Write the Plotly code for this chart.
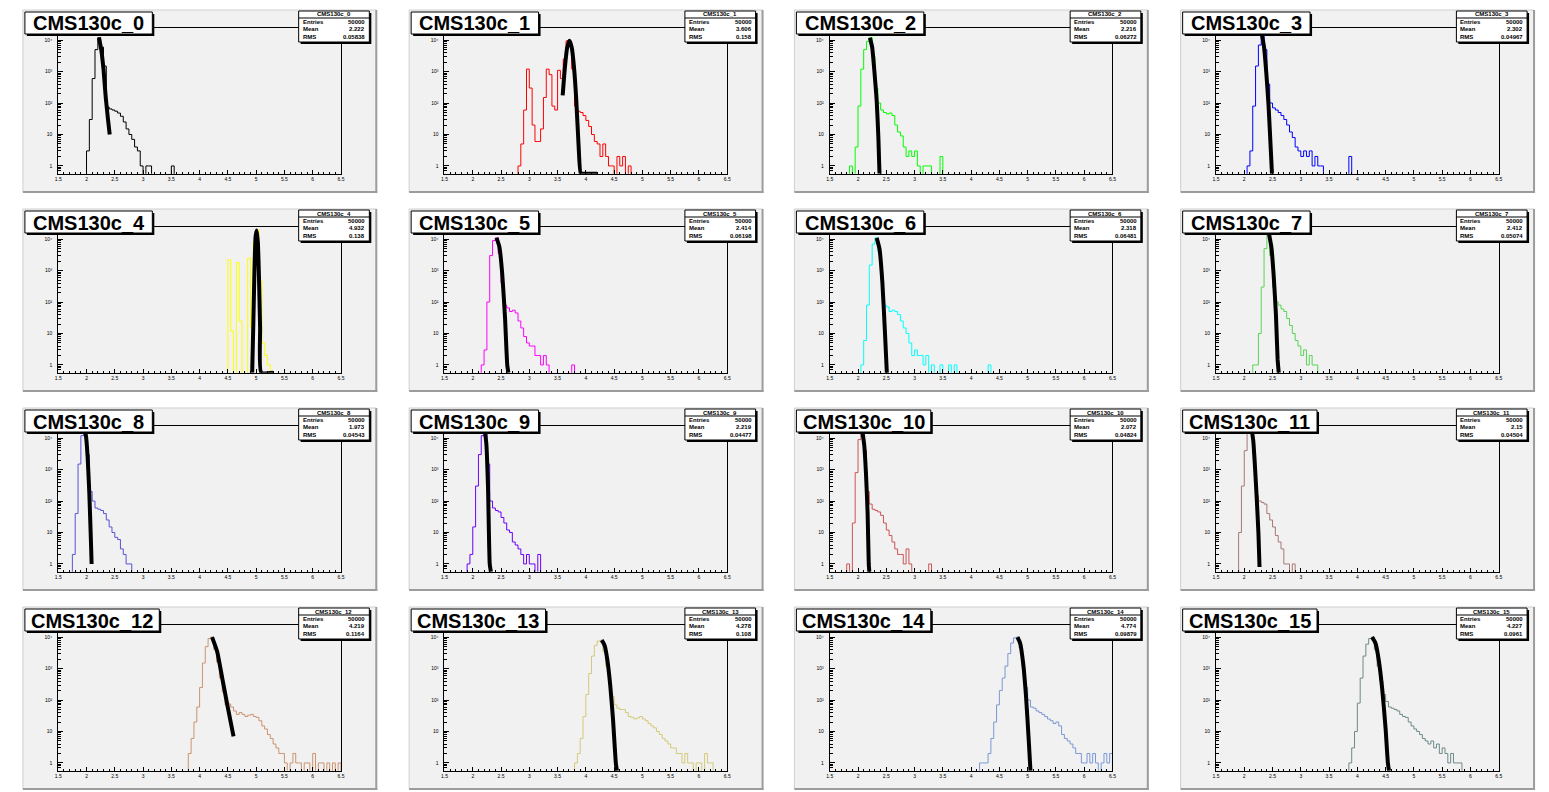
import numpy as np
import plotly.graph_objects as go

# ---------------------------------------------------------------------------
# Histogram contents: bin width 0.05, each list starts at the given low edge
# ---------------------------------------------------------------------------
BIN_WIDTH = 0.05

h0_lo = 2.00
h0 = [3, 30, 600, 5000, 12000, 6000, 1500, 75, 65, 60, 55, 48, 38, 25, 15, 10, 7, 4, 3, 1,
      0, 1, 1, 0, 0, 0, 0, 0, 0, 0, 1]
h1_lo = 2.80
h1 = [1, 5, 60, 1200, 300, 20, 6, 6, 15, 150, 1200, 800, 80, 60, 1100, 600, 2500, 9500, 7000, 1200,
      80, 55, 50, 40, 28, 18, 10, 6, 5, 2, 5, 2, 1, 1, 0, 2, 1, 2, 0, 1]
h2_lo = 1.85
h2 = [1, 0, 4, 80, 1200, 5000, 9000, 12000, 3000, 300, 100, 60, 50, 45, 48, 40, 20, 12, 9, 4,
      2, 3, 2, 3, 1, 0, 1, 1, 1, 0, 0, 0, 2]
h3_lo = 2.05
h3 = [1, 3, 80, 1500, 7000, 16000, 5000, 400, 100, 70, 60, 50, 40, 30, 20, 12, 8, 4, 3, 2,
      3, 2, 3, 1, 2, 1, 1, 0, 0, 0, 0, 0, 0, 0, 0, 0, 2]
h4_lo = 4.50
h4 = [2200, 12, 0, 1800, 25, 0, 0, 2500, 15, 8000, 20000, 500, 5, 2, 1]
h5_lo = 2.15
h5 = [1, 3, 100, 3000, 9000, 11000, 3500, 400, 80, 65, 50, 55, 45, 25, 15, 8, 5, 4, 4, 2,
      2, 1, 2, 1, 0, 0, 0, 0, 0, 0, 0, 0, 1]
h6_lo = 2.05
h6 = [1, 6, 80, 1500, 7000, 11000, 4000, 500, 80, 70, 50, 55, 50, 40, 25, 15, 10, 5, 2, 3,
      2, 2, 1, 2, 0, 1, 0, 0, 1, 0, 0, 1, 0, 1, 0, 0, 0, 0, 0, 0, 0, 0, 0, 0, 0, 1]
h7_lo = 2.15
h7 = [1, 1, 10, 300, 5000, 14000, 3000, 300, 100, 80, 60, 50, 30, 18, 10, 6, 4, 2, 3, 1,
      2, 1, 1]
h8_lo = 1.75
h8 = [2, 40, 1500, 12000, 20000, 3000, 200, 100, 60, 55, 50, 40, 25, 15, 10, 7, 6, 3, 2, 1, 1]
h9_lo = 1.90
h9 = [1, 2, 15, 300, 3000, 12000, 20000, 1500, 100, 60, 50, 45, 30, 20, 12, 10, 5, 4, 3, 2,
      1, 2, 1, 1, 0, 2]
h10_lo = 1.80
h10 = [1, 0, 20, 800, 9000, 15000, 4000, 200, 80, 55, 50, 45, 35, 20, 12, 8, 5, 3, 2, 2,
       1, 3, 1, 0, 0, 0, 0, 0, 0, 1]
h11_lo = 1.90
h11 = [10, 300, 4000, 15000, 20000, 3000, 150, 100, 90, 80, 40, 25, 15, 8, 5, 3, 1, 1, 0, 1]
h12_lo = 3.80
h12 = [2, 6, 20, 60, 250, 1500, 5000, 9000, 10000, 4000, 1600, 500, 180, 70, 75, 60, 45, 35, 40, 35,
       30, 33, 35, 30, 28, 22, 15, 12, 8, 6, 4, 3, 2, 2, 1, 0, 1, 2, 1, 1,
       0, 1, 1, 0, 2, 0, 1, 1, 0, 1, 0, 1, 0, 1]
h13_lo = 3.80
h13 = [1, 2, 6, 30, 150, 700, 2500, 5500, 7500, 8000, 3500, 1200, 400, 130, 70, 55, 50, 50, 40, 30,
       28, 25, 27, 30, 25, 22, 18, 15, 13, 10, 8, 6, 5, 4, 3, 3, 2, 2, 1, 2,
       1, 1, 0, 1, 1, 0, 2, 1, 1]
h14_lo = 4.15
h14 = [1, 1, 1, 2, 6, 20, 70, 200, 500, 1200, 3000, 6500, 9500, 10000, 4500, 1200, 250, 100, 60, 55,
       45, 40, 35, 30, 25, 22, 18, 20, 15, 8, 6, 5, 4, 3, 2, 2, 1, 1, 2, 1,
       2, 1, 0, 1, 2, 1, 2]
h15_lo = 3.85
h15 = [1, 3, 10, 80, 500, 2500, 6000, 9000, 10000, 4000, 1200, 400, 150, 90, 60, 55, 50, 45, 35, 30,
       28, 20, 15, 12, 10, 8, 6, 5, 4, 5, 3, 4, 2, 3, 2, 1, 2, 1, 1, 1]

# ---------------------------------------------------------------------------
# Fitted peak curves (sampled points); values under the frame sit on the floor
# ---------------------------------------------------------------------------
f0_x = [2.22, 2.26, 2.30, 2.34, 2.38, 2.41]
f0_y = [12000, 5000, 1200, 150, 30, 10]
f1_x = [3.59, 3.63, 3.67, 3.71, 3.75, 3.79, 3.83, 3.87, 3.91, 3.95, 4.20]
f1_y = [175, 1400, 5900, 9500, 5900, 1400, 130, 5, 0.3, 0.3, 0.3]
f2_x = [2.21, 2.25, 2.29, 2.33, 2.36, 2.38]
f2_y = [12000, 6000, 1000, 120, 8, 0.3]
f3_x = [2.31, 2.35, 2.39, 2.43, 2.47, 2.49]
f3_y = [16000, 6000, 900, 80, 3, 0.3]
f4_x = [4.93, 4.95, 4.97, 4.99, 5.01, 5.03, 5.05, 5.07, 5.09, 5.30]
f4_y = [0.3, 20, 1000, 12000, 19000, 8000, 600, 15, 0.3, 0.3]
f5_x = [2.42, 2.47, 2.52, 2.57, 2.61, 2.63]
f5_y = [11000, 5800, 830, 33, 1, 0.3]
f6_x = [2.33, 2.38, 2.43, 2.48, 2.51]
f6_y = [11000, 4900, 440, 8, 0.3]
f7_x = [2.44, 2.48, 2.52, 2.56, 2.59, 2.61]
f7_y = [14000, 5500, 700, 40, 1.5, 0.3]
f8_x = [1.96, 1.99, 2.02, 2.05, 2.08, 2.09]
f8_y = [20000, 11800, 2400, 170, 4, 1]
f9_x = [2.21, 2.24, 2.27, 2.30, 2.32]
f9_y = [20000, 6700, 250, 1, 0.3]
f10_x = [2.08, 2.11, 2.14, 2.17, 2.19, 2.20]
f10_y = [15000, 6000, 800, 40, 1, 0.3]
f11_x = [2.13, 2.16, 2.19, 2.22, 2.25, 2.27]
f11_y = [20000, 8000, 1200, 125, 10, 0.8]
f12_x = [4.22, 4.31, 4.40, 4.49, 4.55, 4.60]
f12_y = [10000, 3500, 500, 70, 20, 7]
f13_x = [4.28, 4.33, 4.38, 4.43, 4.48, 4.53, 4.55]
f13_y = [8000, 5600, 1900, 310, 25, 1, 0.3]
f14_x = [4.82, 4.87, 4.92, 4.97, 5.02, 5.05]
f14_y = [10000, 6200, 1500, 140, 5, 0.3]
f15_x = [4.26, 4.32, 4.38, 4.44, 4.50, 4.54, 4.56]
f15_y = [10000, 6500, 1800, 220, 12, 1, 0.3]

# ---------------------------------------------------------------------------
# Titles, statistics and line colours
# ---------------------------------------------------------------------------
TITLES = ["CMS130c_0", "CMS130c_1", "CMS130c_2", "CMS130c_3",
          "CMS130c_4", "CMS130c_5", "CMS130c_6", "CMS130c_7",
          "CMS130c_8", "CMS130c_9", "CMS130c_10", "CMS130c_11",
          "CMS130c_12", "CMS130c_13", "CMS130c_14", "CMS130c_15"]
ENTRIES = ["50000"] * 16
MEANS = ["2.222", "3.606", "2.216", "2.302", "4.932", "2.414", "2.318", "2.412",
         "1.973", "2.219", "2.072", "2.15", "4.219", "4.278", "4.774", "4.227"]
RMS = ["0.05838", "0.158", "0.06272", "0.04967", "0.138", "0.06198", "0.06481", "0.05074",
       "0.04543", "0.04477", "0.04824", "0.04504", "0.1164", "0.108", "0.09879", "0.0961"]
COLORS = ["#000000", "#ff0000", "#00ff00", "#0000ff",
          "#ffff00", "#ff00ff", "#00ffff", "#59d454",
          "#5954d8", "#6c00ff", "#cd5454", "#a87878",
          "#cc9470", "#d4c97a", "#7b98d6", "#6e8a8a"]

X_RANGE = [1.5, 6.5]
Y_LOG_RANGE = [-0.25, 4.38]
Y_TICK_VALS = [1, 10, 100, 1000, 10000]
Y_TICK_TEXT = ["1", "10", "10²", "10³", "10⁴"]

HIST_LO = [h0_lo, h1_lo, h2_lo, h3_lo, h4_lo, h5_lo, h6_lo, h7_lo,
           h8_lo, h9_lo, h10_lo, h11_lo, h12_lo, h13_lo, h14_lo, h15_lo]
HIST = [h0, h1, h2, h3, h4, h5, h6, h7, h8, h9, h10, h11, h12, h13, h14, h15]
FIT_X = [f0_x, f1_x, f2_x, f3_x, f4_x, f5_x, f6_x, f7_x,
         f8_x, f9_x, f10_x, f11_x, f12_x, f13_x, f14_x, f15_x]
FIT_Y = [f0_y, f1_y, f2_y, f3_y, f4_y, f5_y, f6_y, f7_y,
         f8_y, f9_y, f10_y, f11_y, f12_y, f13_y, f14_y, f15_y]

# ---------------------------------------------------------------------------
# Canvas geometry (pixels)
# ---------------------------------------------------------------------------
W, H = 1549, 792
PAD_X = [20, 408, 795, 1183]
PAD_Y = [10, 209, 408, 607]
PAD_W, PAD_H = 355, 182
FONT = "Liberation Sans, Arial, sans-serif"
FLOOR = 10 ** Y_LOG_RANGE[0]
EMPTY = 0.1   # empty bins are drawn below the frame


def fx(px):
    return px / W


def fy(py):
    return 1 - py / H


minor_y = [m * 10 ** d for d in range(-1, 5) for m in range(2, 10)]

fig = go.Figure()
layout = {}
shapes = []
annotations = []

for i in range(16):
    r, c = divmod(i, 4)
    x0, y0 = PAD_X[c], PAD_Y[r]
    left, right = x0 + 0.1 * PAD_W, x0 + 0.9 * PAD_W
    top, bottom = y0 + 0.1 * PAD_H, y0 + 0.9 * PAD_H
    n = "" if i == 0 else str(i + 1)

    layout["xaxis" + n] = dict(
        domain=[fx(left), fx(right)], anchor="y" + n, range=X_RANGE,
        showline=True, linecolor="black", linewidth=1, mirror=True,
        ticks="inside", ticklen=4, tickwidth=1, tickcolor="black",
        tick0=1.5, dtick=0.5, tickfont=dict(size=5, color="black", family=FONT),
        minor=dict(dtick=0.1, tick0=1.5, ticks="inside", ticklen=2, tickcolor="black"),
        showgrid=False, zeroline=False, fixedrange=True,
    )
    layout["yaxis" + n] = dict(
        domain=[fy(bottom), fy(top)], anchor="x" + n, type="log", range=Y_LOG_RANGE,
        showline=True, linecolor="black", linewidth=1, mirror=True,
        tickmode="array", tickvals=Y_TICK_VALS, ticktext=Y_TICK_TEXT,
        ticks="inside", ticklen=5, tickwidth=1, tickcolor="black",
        ticklabelstandoff=4,
        tickfont=dict(size=5, color="black", family=FONT),
        minor=dict(tickmode="array", tickvals=minor_y, ticks="inside",
                   ticklen=3, tickcolor="black"),
        showgrid=False, zeroline=False, fixedrange=True,
    )

    # histogram outline
    counts = np.asarray(HIST[i], dtype=float)
    edges = HIST_LO[i] + BIN_WIDTH * np.arange(len(counts) + 1)
    shown = np.where(counts > 0, counts, EMPTY)
    xs = np.concatenate([[edges[0]], edges])
    ys = np.concatenate([[EMPTY], shown, [EMPTY]])
    fig.add_trace(go.Scatter(
        x=xs, y=ys, mode="lines", xaxis="x" + n, yaxis="y" + n,
        line=dict(color=COLORS[i], width=1, shape="hv"), hoverinfo="skip",
    ))

    # fitted curve
    fit_y = np.maximum(np.asarray(FIT_Y[i], dtype=float), FLOOR)
    fig.add_trace(go.Scatter(
        x=FIT_X[i], y=fit_y, mode="lines", xaxis="x" + n, yaxis="y" + n,
        line=dict(color="black", width=4, shape="spline", smoothing=0.5),
        hoverinfo="skip",
    ))

    # pad background with bevelled border
    shapes.append(dict(type="rect", xref="paper", yref="paper", layer="below",
                       x0=fx(x0), x1=fx(x0 + PAD_W), y0=fy(y0 + PAD_H), y1=fy(y0),
                       fillcolor="#f1f1f1", line=dict(width=1, color="#cfcfcf")))
    shapes.append(dict(type="line", xref="paper", yref="paper", layer="below",
                       x0=fx(x0 + PAD_W), x1=fx(x0 + PAD_W), y0=fy(y0), y1=fy(y0 + PAD_H + 1),
                       line=dict(width=2, color="#9c9c9c")))
    shapes.append(dict(type="line", xref="paper", yref="paper", layer="below",
                       x0=fx(x0), x1=fx(x0 + PAD_W + 1), y0=fy(y0 + PAD_H), y1=fy(y0 + PAD_H),
                       line=dict(width=2, color="#9c9c9c")))

    # title box
    bw = 128 if len(TITLES[i]) <= 9 else 135
    tx0, ty0, tx1, ty1 = x0 + 2, y0 + 2, x0 + 2 + bw, y0 + 24
    shapes.append(dict(type="rect", xref="paper", yref="paper", layer="above",
                       x0=fx(tx0 + 2), x1=fx(tx1 + 2), y0=fy(ty1 + 2), y1=fy(ty0 + 2),
                       fillcolor="black", line=dict(width=0)))
    shapes.append(dict(type="rect", xref="paper", yref="paper", layer="above",
                       x0=fx(tx0), x1=fx(tx1), y0=fy(ty1), y1=fy(ty0),
                       fillcolor="white", line=dict(width=1, color="black")))
    annotations.append(dict(xref="paper", yref="paper", x=fx((tx0 + tx1) / 2), y=fy((ty0 + ty1) / 2 + 0.5),
                            text="<b>" + TITLES[i] + "</b>", showarrow=False,
                            xanchor="center", yanchor="middle",
                            font=dict(size=20, color="black", family=FONT)))

    # statistics box
    sx0, sy0, sx1, sy1 = x0 + 277, y0 + 1, x0 + 348, y0 + 32
    shapes.append(dict(type="rect", xref="paper", yref="paper", layer="above",
                       x0=fx(sx0 + 2), x1=fx(sx1 + 2), y0=fy(sy1 + 2), y1=fy(sy0 + 2),
                       fillcolor="black", line=dict(width=0)))
    shapes.append(dict(type="rect", xref="paper", yref="paper", layer="above",
                       x0=fx(sx0), x1=fx(sx1), y0=fy(sy1), y1=fy(sy0),
                       fillcolor="white", line=dict(width=1, color="black")))
    shapes.append(dict(type="line", xref="paper", yref="paper", layer="above",
                       x0=fx(sx0), x1=fx(sx1), y0=fy(sy0 + 7), y1=fy(sy0 + 7),
                       line=dict(width=1, color="black")))
    sfont = dict(size=6, color="black", family=FONT)
    annotations.append(dict(xref="paper", yref="paper", x=fx((sx0 + sx1) / 2), y=fy(sy0 + 3.5),
                            text="<b>" + TITLES[i] + "</b>", showarrow=False,
                            xanchor="center", yanchor="middle", font=sfont))
    rows = [("Entries", ENTRIES[i]), ("Mean", MEANS[i]), ("RMS", RMS[i])]
    for k, (label, value) in enumerate(rows):
        yy = fy(sy0 + 11 + 7.3 * k)
        annotations.append(dict(xref="paper", yref="paper", x=fx(sx0 + 2), y=yy,
                                text="<b>" + label + "</b>", showarrow=False,
                                xanchor="left", yanchor="middle", font=sfont))
        annotations.append(dict(xref="paper", yref="paper", x=fx(sx1 - 2), y=yy,
                                text="<b>" + value + "</b>", showarrow=False,
                                xanchor="right", yanchor="middle", font=sfont))

fig.update_layout(
    width=W, height=H, autosize=False,
    margin=dict(l=0, r=0, t=0, b=0, pad=0),
    paper_bgcolor="white", plot_bgcolor="rgba(0,0,0,0)",
    showlegend=False, shapes=shapes, annotations=annotations,
    **layout,
)

fig.write_html("out.html", config={"displayModeBar": False})
